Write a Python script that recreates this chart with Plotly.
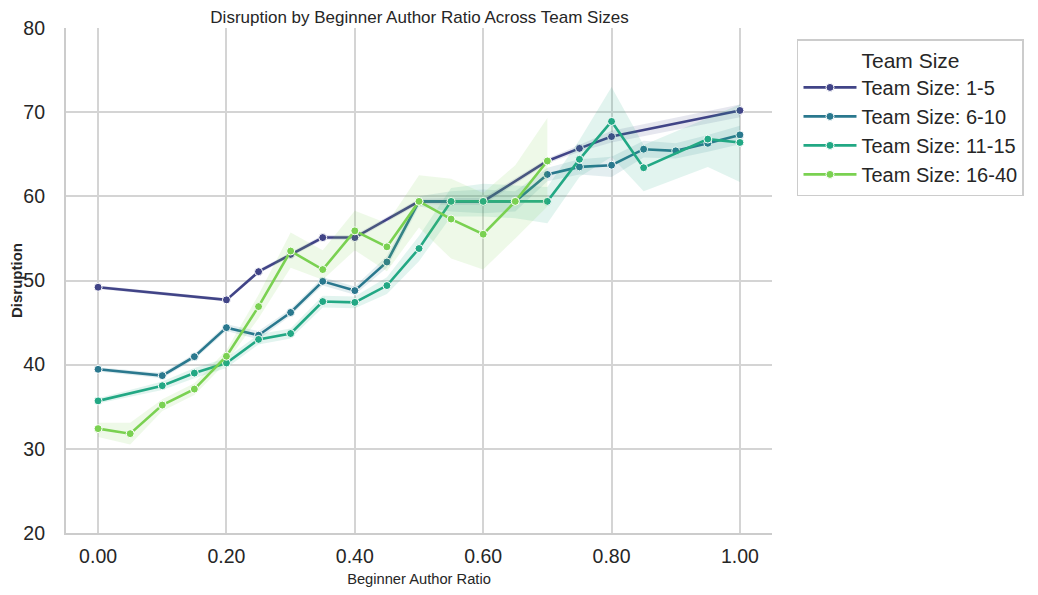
import plotly.graph_objects as go

# ---------------- data ----------------
series_names = ["Team Size: 1-5", "Team Size: 6-10", "Team Size: 11-15", "Team Size: 16-40"]
colors = ["#414487", "#2A788E", "#22A884", "#7AD151"]

x_1_5 = [0.0, 0.2, 0.25, 0.3, 0.35, 0.4, 0.5, 0.55, 0.6, 0.7, 0.75, 0.8, 1.0]
y_1_5 = [49.2, 47.7, 51.05, 53.1, 55.1, 55.1, 59.4, 59.4, 59.4, 64.2, 65.7, 67.1, 70.2]
lo_1_5 = [49.0, 47.5, 50.8, 52.8, 54.8, 54.8, 59.1, 59.0, 59.0, 63.9, 65.3, 66.4, 69.4]
hi_1_5 = [49.4, 47.9, 51.3, 53.4, 55.4, 55.4, 59.7, 59.8, 59.8, 64.5, 66.1, 67.8, 70.9]

x_6_10 = [0.0, 0.1, 0.15, 0.2, 0.25, 0.3, 0.35, 0.4, 0.45, 0.5, 0.55, 0.6, 0.65, 0.7, 0.75, 0.8, 0.85, 0.9, 0.95, 1.0]
y_6_10 = [39.45, 38.7, 40.95, 44.4, 43.5, 46.2, 49.9, 48.8, 52.2, 59.4, 59.4, 59.4, 59.4, 62.6, 63.5, 63.7, 65.6, 65.4, 66.3, 67.3]
lo_6_10 = [39.2, 38.4, 40.6, 44.0, 43.0, 45.8, 49.4, 48.3, 51.5, 58.8, 58.2, 58.0, 58.2, 61.8, 62.6, 62.3, 64.6, 64.5, 65.3, 66.2]
hi_6_10 = [39.7, 39.0, 41.3, 44.8, 44.0, 46.6, 50.4, 49.3, 52.9, 60.0, 60.6, 60.8, 60.6, 63.4, 64.4, 64.7, 66.6, 66.3, 67.3, 68.4]

x_11_15 = [0.0, 0.1, 0.15, 0.2, 0.25, 0.3, 0.35, 0.4, 0.45, 0.5, 0.55, 0.6, 0.65, 0.7, 0.75, 0.8, 0.85, 0.95, 1.0]
y_11_15 = [35.7, 37.5, 39.0, 40.2, 43.0, 43.7, 47.5, 47.4, 49.4, 53.8, 59.4, 59.4, 59.4, 59.4, 64.4, 68.9, 63.4, 66.8, 66.4]
lo_11_15 = [35.4, 37.0, 38.4, 39.6, 42.4, 43.1, 46.8, 46.7, 48.4, 52.3, 57.6, 57.6, 57.4, 56.8, 62.3, 64.7, 60.6, 63.5, 61.7]
hi_11_15 = [36.0, 38.0, 39.6, 40.8, 43.6, 44.3, 48.2, 48.1, 50.4, 55.3, 61.0, 61.5, 61.3, 61.1, 66.7, 73.0, 66.1, 69.3, 70.9]

x_16_40 = [0.0, 0.05, 0.1, 0.15, 0.2, 0.25, 0.3, 0.35, 0.4, 0.45, 0.5, 0.55, 0.6, 0.65, 0.7]
y_16_40 = [32.4, 31.8, 35.2, 37.1, 41.0, 46.9, 53.5, 51.3, 55.9, 54.0, 59.4, 57.3, 55.5, 59.4, 64.2]
lo_16_40 = [31.4, 30.5, 34.5, 36.4, 40.3, 45.5, 51.5, 50.1, 53.6, 51.1, 56.3, 52.6, 51.3, 55.0, 58.8]
hi_16_40 = [33.1, 33.1, 35.9, 37.8, 41.7, 48.3, 55.7, 53.6, 58.3, 56.8, 62.5, 62.1, 60.4, 63.7, 69.3]

xs = [x_1_5, x_6_10, x_11_15, x_16_40]
ys = [y_1_5, y_6_10, y_11_15, y_16_40]
los = [lo_1_5, lo_6_10, lo_11_15, lo_16_40]
his = [hi_1_5, hi_6_10, hi_11_15, hi_16_40]

x_ticks = [0.0, 0.2, 0.4, 0.6, 0.8, 1.0]
y_ticks = [20, 30, 40, 50, 60, 70, 80]


def rgba(hex_color, a):
    h = hex_color.lstrip("#")
    r, g, b = int(h[0:2], 16), int(h[2:4], 16), int(h[4:6], 16)
    return f"rgba({r},{g},{b},{a})"


fig = go.Figure()
for name, c, x, y, lo, hi in zip(series_names, colors, xs, ys, los, his):
    fig.add_trace(go.Scatter(
        x=list(x) + list(x)[::-1],
        y=list(hi) + list(lo)[::-1],
        fill="toself", fillcolor=rgba(c, 0.13),
        line=dict(width=0), mode="lines",
        showlegend=False, hoverinfo="skip",
    ))
    fig.add_trace(go.Scatter(
        x=x, y=y, name=name, mode="lines+markers",
        line=dict(color=c, width=2.6),
        marker=dict(color=c, size=8, line=dict(color="white", width=1)),
    ))

font_family = "Liberation Sans, Arial, sans-serif"
fig.update_layout(
    width=1038, height=595,
    margin=dict(l=58, r=274, t=20, b=70, autoexpand=False),
    paper_bgcolor="white", plot_bgcolor="white",
    font=dict(family=font_family, color="#262626"),
    title=dict(text="Disruption by Beginner Author Ratio Across Team Sizes",
               x=411.5 / 1038, xanchor="center", y=1 - 3 / 595, yanchor="top",
               pad=dict(t=0, b=0),
               font=dict(size=17, color="#262626")),
    legend=dict(
        title=dict(text="Team Size", side="top center", font=dict(size=21)),
        font=dict(size=20),
        x=1.0354, xanchor="left", y=0.978, yanchor="top",
        bordercolor="#cccccc", borderwidth=1.5, bgcolor="white",
        itemwidth=53, tracegroupgap=0,
    ),
    xaxis=dict(
        range=[-0.05, 1.05], tickvals=x_ticks, tickformat=".2f",
        showgrid=True, gridcolor="#d4d4d4", gridwidth=1.6,
        showline=True, linecolor="#cccccc", linewidth=2.2,
        zeroline=False, ticks="", ticklabelstandoff=4,
        tickfont=dict(size=19.5), automargin=False,
        title=dict(text="Beginner Author Ratio", font=dict(size=14.7), standoff=8),
    ),
    yaxis=dict(
        range=[20, 80], tickvals=y_ticks,
        showgrid=True, gridcolor="#d4d4d4", gridwidth=1.6,
        showline=True, linecolor="#cccccc", linewidth=2.2,
        zeroline=False, ticks="", ticklabelstandoff=15,
        tickfont=dict(size=19.5), automargin=False,
        title=dict(text="<b>Disruption</b>", font=dict(size=15), standoff=14),
    ),
)

fig.write_html("out.html")
